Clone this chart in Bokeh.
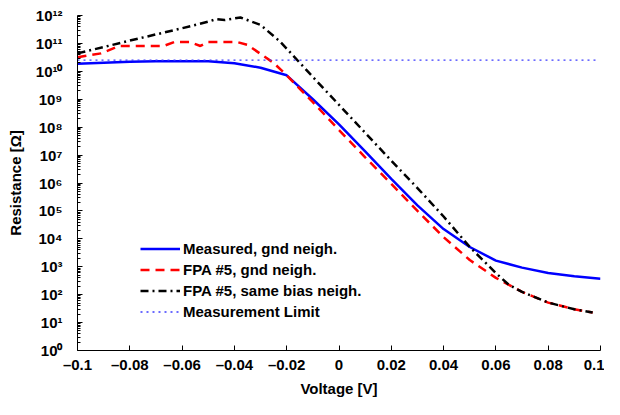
from bokeh.plotting import figure
from bokeh.models import FixedTicker, Legend, LegendItem
from bokeh.embed import file_html
from bokeh.resources import INLINE

# ---- data ----
v_measured = [-0.1, -0.09, -0.08, -0.07, -0.06, -0.05, -0.04, -0.03, -0.02, -0.01,
              0.0, 0.01, 0.02, 0.03, 0.04, 0.05, 0.06, 0.07, 0.08, 0.09, 0.1]
r_measured = [1.86e10, 2.04e10, 2.2e10, 2.3e10, 2.3e10, 2.3e10, 1.95e10, 1.35e10, 7.2e9, 1.0e9,
              1.26e8, 1.35e7, 1.41e6, 1.58e5, 2.24e4, 5.1e3, 1.66e3, 9.3e2, 6.0e2, 4.6e2, 3.7e2]

v_fpa_gnd = [-0.1, -0.091, -0.084, -0.067, -0.063, -0.057, -0.053, -0.05, -0.039, -0.035,
             -0.03, -0.025, -0.02, -0.01, 0.0, 0.01, 0.02, 0.03, 0.04, 0.05, 0.06, 0.065,
             0.07, 0.08, 0.09, 0.097]
r_fpa_gnd = [3.2e10, 4.4e10, 8.1e10, 8.1e10, 1.12e11, 1.12e11, 8.1e10, 1.12e11, 1.12e11, 8.9e10,
             4.2e10, 2.0e10, 7.2e9, 7.9e8, 7.9e7, 8.3e6, 9.3e5, 1.0e5, 1.15e4, 1.74e3, 4.0e2, 2.24e2,
             1.26e2, 52, 30, 23]

v_fpa_same = [-0.1, -0.09, -0.08, -0.07, -0.06, -0.05, -0.047, -0.0437, -0.0377, -0.03,
              -0.0227, -0.02, -0.01, 0.0, 0.01, 0.02, 0.03, 0.04, 0.05, 0.06, 0.065,
              0.07, 0.08, 0.09, 0.097]
r_fpa_same = [4.4e10, 7.4e10, 1.26e11, 2.1e11, 3.5e11, 6.0e11, 7.4e11, 6.9e11, 8.5e11, 4.6e11,
              1.2e11, 6.5e10, 6.3e9, 6.3e8, 6.3e7, 6.3e6, 6.6e5, 6.3e4, 5.1e3, 5.9e2, 2.24e2,
              1.26e2, 52, 30, 23]

v_limit = [-0.1, 0.099]
r_limit = [2.5e10, 2.5e10]

series_labels = ["Measured, gnd neigh.", "FPA #5, gnd neigh.",
                 "FPA #5, same bias neigh.", "Measurement Limit"]

xtick_values = [-0.1, -0.08, -0.06, -0.04, -0.02, 0, 0.02, 0.04, 0.06, 0.08, 0.1]
xtick_labels = ["\u20130.1", "\u20130.08", "\u20130.06", "\u20130.04", "\u20130.02", "0",
                "0.02", "0.04", "0.06", "0.08", "0.1"]
ytick_values = [1e0, 1e1, 1e2, 1e3, 1e4, 1e5, 1e6, 1e7, 1e8, 1e9, 1e10, 1e11, 1e12]
ytick_labels = ["10\u2070", "10\u00b9", "10\u00b2", "10\u00b3", "10\u2074", "10\u2075",
                "10\u2076", "10\u2077", "10\u2078", "10\u2079", "10\u00b9\u2070",
                "10\u00b9\u00b9", "10\u00b9\u00b2"]

FONT = "Liberation Sans"

p = figure(width=604, height=399, x_range=(-0.1, 0.1), y_range=(1, 1e12),
           y_axis_type="log", output_backend="svg", toolbar_location=None,
           min_border_left=77, min_border_right=4, min_border_top=15, min_border_bottom=47)
p.outline_line_color = None
p.grid.visible = False
p.background_fill_color = "white"
p.border_fill_color = "white"

r1 = p.line(v_measured, r_measured, line_color="#0000ff", line_width=2.5)
r2 = p.line(v_fpa_gnd, r_fpa_gnd, line_color="#ff0000", line_width=2.5, line_dash="9 6")
r3 = p.line(v_fpa_same, r_fpa_same, line_color="black", line_width=2.5, line_dash="8 4 2 4")
r4 = p.line(v_limit, r_limit, line_color="#3b3bff", line_width=1.3, line_dash="2 4")

# axes
p.xaxis.ticker = FixedTicker(ticks=xtick_values)
p.xaxis.major_label_overrides = dict(zip(xtick_values, xtick_labels))
minor = [m * 10.0 ** e for e in range(12) for m in range(2, 10)]
p.yaxis.ticker = FixedTicker(ticks=ytick_values, minor_ticks=minor)
p.yaxis.major_label_overrides = dict(zip(ytick_values, ytick_labels))

for ax in (p.xaxis, p.yaxis):
    ax.axis_line_color = "black"
    ax.axis_line_width = 1
    ax.major_tick_in = 5
    ax.major_tick_out = 0
    ax.major_tick_line_color = "black"
    ax.major_label_text_font = FONT
    ax.major_label_text_font_style = "bold"
    ax.major_label_text_font_size = "15px"
    ax.major_label_text_color = "black"
    ax.axis_label_text_font = FONT
    ax.axis_label_text_font_style = "bold"
    ax.axis_label_text_font_size = "15px"
    ax.axis_label_text_color = "black"

p.xaxis.minor_tick_line_color = None
p.xaxis.major_label_standoff = 5
p.xaxis.axis_label = "Voltage [V]"
p.xaxis.axis_label_standoff = 4

p.yaxis.minor_tick_in = 3
p.yaxis.minor_tick_out = 0
p.yaxis.minor_tick_line_color = "black"
p.yaxis.major_label_standoff = 15
p.yaxis.axis_label = "Resistance [\u03a9]"
p.yaxis.axis_label_standoff = 9

legend = Legend(items=[LegendItem(label=lab, renderers=[r])
                       for lab, r in zip(series_labels, [r1, r2, r3, r4])],
                location=(63, 28))
legend.border_line_color = None
legend.background_fill_alpha = 0
legend.padding = 0
legend.margin = 0
legend.spacing = 0
legend.glyph_width = 40
legend.glyph_height = 21
legend.label_height = 21
legend.label_standoff = 3
legend.label_text_font = FONT
legend.label_text_font_style = "bold"
legend.label_text_font_size = "15px"
legend.label_text_color = "black"
p.add_layout(legend)

open("out.html", "w").write(file_html(p, INLINE))
